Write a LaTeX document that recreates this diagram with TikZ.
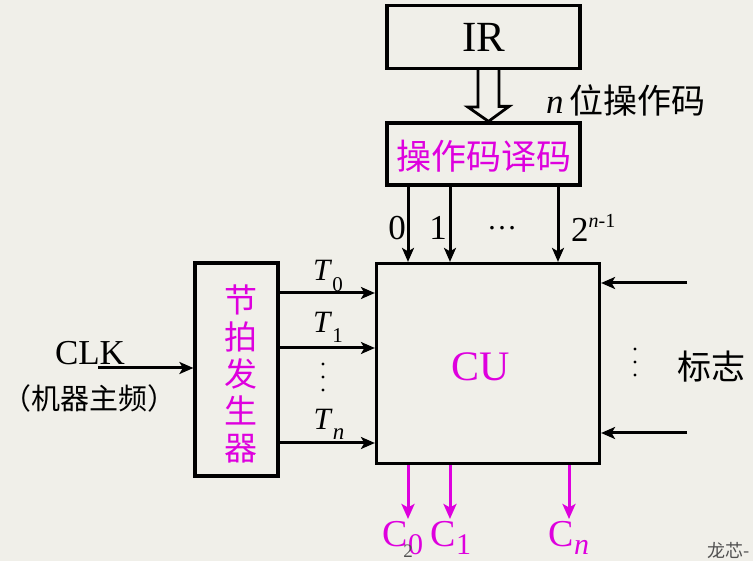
\documentclass[tikz,border=0pt]{standalone}
\usepackage{fontspec}
\setmainfont{Liberation Serif}
\newfontfamily\cjk{Noto Sans CJK SC}
\usetikzlibrary{arrows.meta,calc}
\definecolor{bg}{RGB}{240,239,233}
\definecolor{mag}{RGB}{222,0,222}
\definecolor{wm}{RGB}{80,80,80}
\tikzset{
  blk/.style={draw=black,line width=3.2pt,fill=none,inner sep=0pt},
  arr/.style={line width=3pt,-{Stealth[length=14pt,width=12pt,inset=3.5pt]}},
  marr/.style={draw=mag,line width=3pt,-{Stealth[length=15pt,width=13pt,inset=3.5pt]}},
  lbl/.style={inner sep=0pt},
  vdot/.style={circle,fill=black,inner sep=0pt,minimum size=3.4pt},
}
\newcommand{\fs}[1]{\fontsize{#1}{#1}\selectfont}
\begin{document}
\begin{tikzpicture}[x=1pt,y=-1pt]
\useasboundingbox (0,0) rectangle (753,561);
\fill[bg] (0,0) rectangle (753,561);

% boxes
\node[blk,minimum width=193pt,minimum height=63pt] (ir) at (483.5,37) {};
\node[blk,minimum width=193pt,minimum height=62pt] (dec) at (483.5,154) {};
\node[blk,minimum width=223pt,minimum height=200pt] (cu) at (488,363.5) {};
\node[blk,minimum width=83pt,minimum height=213pt] (tg) at (236.5,369.5) {};

% texts in boxes
\node[lbl] (irt) at (483.5,37) {\fs{43}IR};
\node[lbl,text=mag] (dect) at (483.5,156) {\cjk\fs{35}操作码译码};
\node[lbl,text=mag] (cut) at (481,367) {\fs{42}CU};
\node[lbl,text=mag,align=center,font=\cjk\fontsize{33}{37}\selectfont] (tgt) at (241,374) {节\\拍\\发\\生\\器};

% hollow arrow IR -> decoder
\coordinate (hc) at (488.5,0);
\draw[line width=2.8pt,line join=miter,fill=bg]
  ($(ir.south -| hc)+(-10.5,0)$) -- ++(0,37) -- ++(-10,0) -- (dec.north -| hc)
  -- ++(20.5,-15) -- ++(-10,0) -- ($(ir.south -| hc)+(10.5,0)$);
\node[lbl,anchor=west] (nop) at (546,100) {\fs{35}\textit{n}\,\cjk\fs{34}位操作码};

% decoder outputs
\coordinate (x0) at (408,0);
\coordinate (x1) at (450,0);
\coordinate (x2) at (558,0);
\draw[arr] (dec.south -| x0) -- (cu.north -| x0);
\draw[arr] (dec.south -| x1) -- (cu.north -| x1);
\draw[arr] (dec.south -| x2) -- (cu.north -| x2);
\node[lbl] (l0) at (397,228) {\fs{35}0};
\node[lbl] (l1) at (438,228) {\fs{35}1};
\node[lbl] (ld) at (502,228) {\fs{30}…};
\node[lbl,anchor=west] (l2) at (571,228) {\fs{35}2\raisebox{0.42em}{\fs{20}\textit{n}-1}};

% timing outputs
\coordinate (y0) at (0,293);
\coordinate (y1) at (0,348);
\coordinate (y2) at (0,443);
\draw[arr] (tg.east |- y0) -- (cu.west |- y0);
\draw[arr] (tg.east |- y1) -- (cu.west |- y1);
\draw[arr] (tg.east |- y2) -- (cu.west |- y2);
\node[lbl] (t0) at (328,276) {\fs{31}\textit{T}\raisebox{-0.33em}{\fs{21}0}};
\node[lbl] (t1) at (328,327) {\fs{31}\textit{T}\raisebox{-0.33em}{\fs{21}1}};
\node[lbl] (tn) at (329,424) {\fs{31}\textit{T}\raisebox{-0.33em}{\fs{23}\textit{n}}};
\node[vdot] (d1) at (323,364) {};
\node[vdot] (d2) at (323,377) {};
\node[vdot] (d3) at (323,390) {};

% CLK
\coordinate (clk) at (98,368);
\draw[arr] (clk) -- (tg.west |- clk);
\node[lbl] (clkt) at (90,353) {\fs{35}CLK};
\node[lbl] (freq) at (89,398) {\cjk\fs{29}（机器主频）};

% flags
\coordinate (f0) at (687,283);
\coordinate (f1) at (687,433);
\draw[arr] (f0) -- (cu.east |- f0);
\draw[arr] (f1) -- (cu.east |- f1);
\node[vdot] (e1) at (635,349) {};
\node[vdot] (e2) at (635,362) {};
\node[vdot] (e3) at (635,375) {};
\node[lbl] (flag) at (711,367) {\cjk\fs{34}标志};

% control outputs
\coordinate (c0) at (408,519);
\coordinate (c1) at (450,519);
\coordinate (c2) at (569,519);
\draw[marr] (cu.south -| c0) -- (c0);
\draw[marr] (cu.south -| c1) -- (c1);
\draw[marr] (cu.south -| c2) -- (c2);
\node[lbl,text=mag] (co0) at (403,538) {\fs{38}C\raisebox{-0.22em}{\fs{30}0}};
\node[lbl,text=mag] (co1) at (451,538) {\fs{38}C\raisebox{-0.22em}{\fs{30}1}};
\node[lbl,text=mag] (co2) at (569,538) {\fs{38}C\raisebox{-0.22em}{\fs{30}\textit{n}}};

% watermark texts
\node[lbl,text=wm] (pg) at (408,551) {\fs{19}2};
\node[lbl,text=wm,anchor=west] (wmk) at (707,551) {\cjk\fs{18}龙芯-};
\end{tikzpicture}
\end{document}
